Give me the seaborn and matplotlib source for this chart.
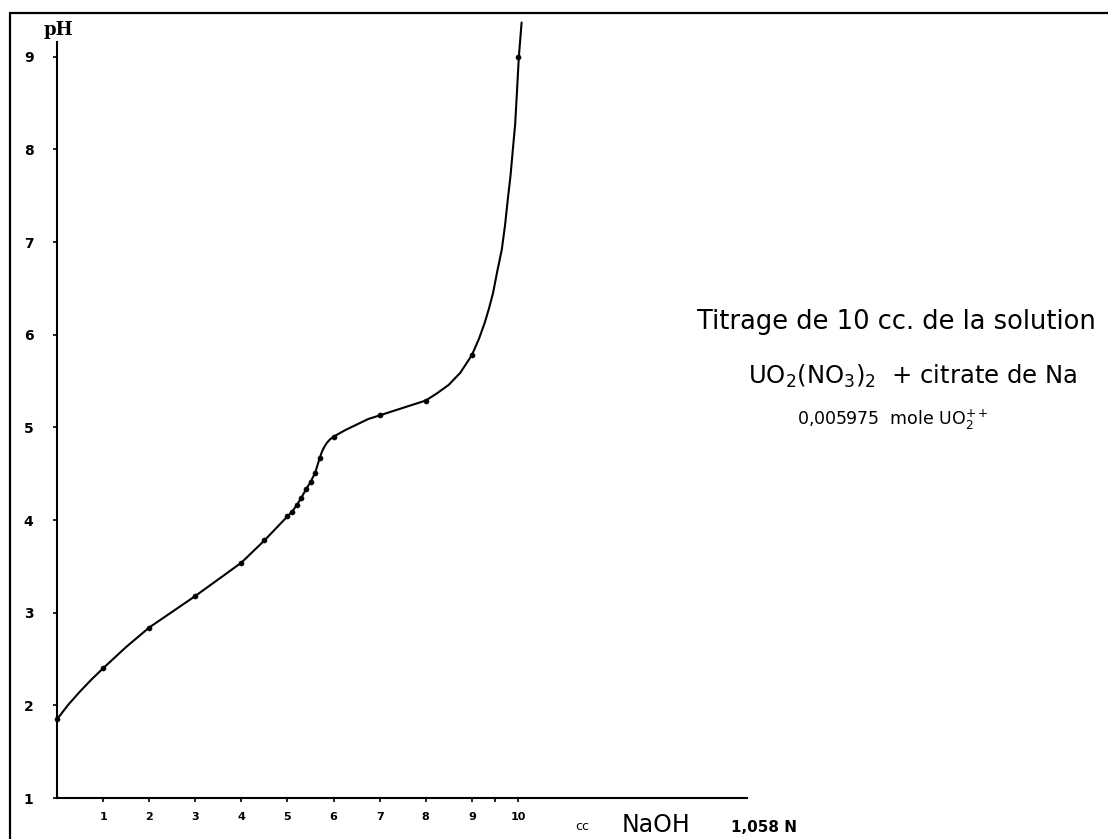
import seaborn as sns
import pandas as pd
import matplotlib.pyplot as plt
from matplotlib.lines import Line2D

# measured titration points (cc NaOH, pH)
titr_cc = [0, 1, 2, 3, 4, 4.5, 5, 5.1, 5.2, 5.3, 5.4, 5.5, 5.6, 5.7, 6, 7, 8, 9, 10]
titr_ph = [1.85, 2.40, 2.84, 3.18, 3.54, 3.78, 4.04, 4.09, 4.16, 4.24, 4.33, 4.41,
           4.51, 4.67, 4.90, 5.13, 5.29, 5.78, 9.0]

# hand drawn curve
curve_cc = [0, 0.25, 0.5, 0.75, 1, 1.5, 2, 2.5, 3, 3.5, 4, 4.5, 5, 5.1, 5.2, 5.3,
            5.4, 5.5, 5.6, 5.7, 5.75, 5.8, 5.85, 5.92, 6, 6.25, 6.5, 6.75, 7, 7.5,
            8, 8.25, 8.5, 8.75, 9, 9.15, 9.28, 9.37, 9.46, 9.55, 9.65, 9.72, 9.78,
            9.84, 9.89, 9.94, 9.97, 10.02, 10.08]
curve_ph = [1.85, 2.01, 2.15, 2.28, 2.40, 2.63, 2.84, 3.01, 3.18, 3.36, 3.54, 3.78,
            4.04, 4.09, 4.16, 4.24, 4.33, 4.41, 4.51, 4.67, 4.74, 4.79, 4.83, 4.87,
            4.90, 4.97, 5.03, 5.09, 5.13, 5.21, 5.29, 5.37, 5.46, 5.59, 5.78, 5.95,
            6.13, 6.28, 6.45, 6.68, 6.92, 7.18, 7.46, 7.72, 8.0, 8.27, 8.54, 9.0,
            9.37]

x_ticks = [1, 2, 3, 4, 5, 6, 7, 8, 9, 10]
y_ticks = [1, 2, 3, 4, 5, 6, 7, 8, 9]

points = pd.DataFrame({'cc': titr_cc, 'pH': titr_ph})
curve = pd.DataFrame({'cc': curve_cc, 'pH': curve_ph})

sns.set_style('white')
plt.rcParams['font.family'] = ['DejaVu Sans']
plt.rcParams['text.color'] = 'black'
plt.rcParams['xtick.color'] = 'black'
plt.rcParams['ytick.color'] = 'black'

fig = plt.figure(figsize=(11.08, 8.39), dpi=100)
ax = fig.add_axes([57 / 1108, 1 - 798 / 839, 690 / 1108, 756 / 839])

sns.lineplot(data=curve, x='cc', y='pH', ax=ax, color='black', linewidth=1.5,
             sort=False, clip_on=False)
sns.scatterplot(data=points, x='cc', y='pH', ax=ax, color='black', s=14,
                edgecolor='black', zorder=3, clip_on=False)

ax.set_xlim(0, 14.97)
ax.set_ylim(1, 9.16)
ax.set_xticks(x_ticks)
ax.set_xticks([9.5], minor=True)
ax.set_yticks(y_ticks)
ax.set_xticklabels([str(v) for v in x_ticks], fontsize=8, fontweight='bold')
ax.set_yticklabels([str(v) for v in y_ticks], fontsize=10, fontweight='bold')
ax.tick_params(axis='both', which='both', direction='out', length=3, width=1.2,
               color='black', labelcolor='black', bottom=True, left=True)
ax.tick_params(axis='x', pad=7)
ax.tick_params(axis='y', pad=14)
ax.set_xlabel('')
ax.set_ylabel('')
for side in ['top', 'right']:
    ax.spines[side].set_visible(False)
for side in ['left', 'bottom']:
    ax.spines[side].set_color('black')
    ax.spines[side].set_linewidth(1.5)

# labels drawn as hand lettering on the sheet
fig.text(58 / 1108, 1 - 30 / 839, 'pH', fontsize=13, fontweight='bold',
         family='DejaVu Serif', ha='center', va='center')
fig.text(582 / 1108, 1 - 827 / 839, 'cc', fontsize=9, ha='center', va='center')
fig.text(656 / 1108, 1 - 825 / 839, 'NaOH', fontsize=17, ha='center', va='center')
fig.text(764 / 1108, 1 - 828 / 839, '1,058 N', fontsize=11, fontweight='bold',
         ha='center', va='center')

fig.text(896 / 1108, 1 - 322 / 839, 'Titrage de 10 cc. de la solution',
         fontsize=18.5, ha='center', va='center')
fig.text(912 / 1108, 1 - 376 / 839, r'UO$_2$(NO$_3$)$_2$  + citrate de Na',
         fontsize=17.5, ha='center', va='center')
fig.text(893 / 1108, 1 - 420 / 839, r'0,005975  mole UO$_2^{++}$',
         fontsize=12.5, ha='center', va='center')

# sheet frame (top and left edges)
fig.add_artist(Line2D([10 / 1108, 1], [1 - 13 / 839, 1 - 13 / 839],
                      color='black', linewidth=1.6))
fig.add_artist(Line2D([10 / 1108, 10 / 1108], [0, 1 - 13 / 839],
                      color='black', linewidth=1.6))

fig.savefig('out.png', dpi=100)
